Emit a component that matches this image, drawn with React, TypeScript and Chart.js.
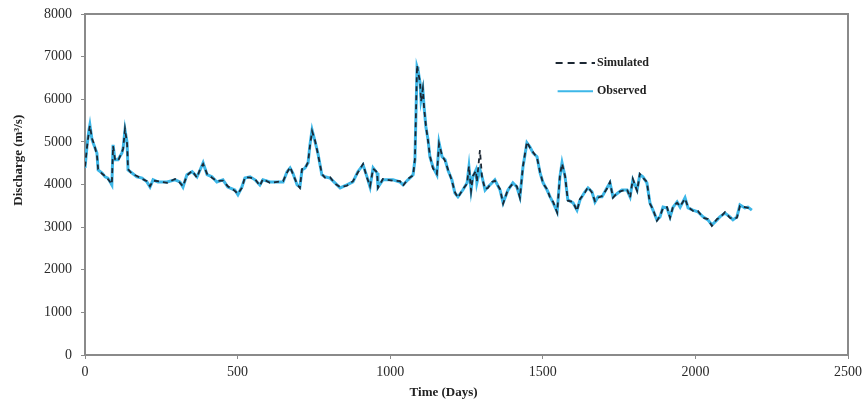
import React, { useEffect, useRef } from "react";
import { Chart, registerables } from "chart.js";

Chart.register(...registerables);

const days = [
  0, 7, 13, 16, 23, 29, 39, 43, 56, 66, 75, 88, 92, 98, 108, 121, 125, 131, 138, 141,
  154, 170, 187, 203, 213, 223, 239, 269, 295, 311, 321, 334, 351, 367, 377, 387, 400, 416, 432, 452,
  468, 491, 501, 514, 524, 541, 557, 573, 583, 606, 649, 662, 672, 681, 695, 704, 711, 721, 731, 737,
  744, 754, 763, 776, 786, 803, 819, 836, 858, 878, 894, 911, 924, 934, 944, 957, 960, 976, 1009, 1032,
  1042, 1058, 1075, 1081, 1088, 1091, 1098, 1101, 1107, 1111, 1117, 1124, 1130, 1140, 1153, 1160, 1170, 1180, 1189, 1202,
  1212, 1222, 1238, 1252, 1258, 1265, 1271, 1281, 1284, 1294, 1301, 1311, 1320, 1334, 1343, 1360, 1370, 1386, 1402, 1415,
  1425, 1435, 1448, 1458, 1468, 1481, 1491, 1501, 1514, 1524, 1534, 1547, 1556, 1563, 1573, 1582, 1599, 1612, 1622, 1638,
  1648, 1661, 1671, 1681, 1694, 1710, 1720, 1730, 1746, 1759, 1776, 1786, 1795, 1809, 1818, 1828, 1841, 1851, 1861, 1874,
  1884, 1894, 1907, 1917, 1927, 1940, 1950, 1966, 1976, 1992, 2008, 2025, 2041, 2054, 2071, 2080, 2097, 2113, 2123, 2136,
  2146, 2162, 2172, 2185,
];

const observed = [
  4390, 4930, 5280, 5400, 5050, 4930, 4740, 4340, 4270, 4180, 4150, 3990, 4930, 4580, 4580, 4740, 4860, 5280, 4980, 4340,
  4270, 4180, 4150, 4060, 3940, 4110, 4060, 4060, 4110, 4060, 3940, 4230, 4300, 4180, 4340, 4510, 4230, 4180, 4060, 4110,
  3940, 3870, 3760, 3940, 4150, 4180, 4110, 3990, 4110, 4060, 4060, 4300, 4390, 4270, 3990, 3940, 4340, 4390, 4510, 4930,
  5280, 5000, 4740, 4230, 4180, 4150, 4040, 3920, 3990, 4060, 4300, 4460, 4180, 3940, 4390, 4270, 3940, 4110, 4110, 4060,
  3990, 4110, 4230, 4580, 6760, 6690, 6380, 5990, 6220, 5820, 5350, 5050, 4650, 4410, 4230, 4980, 4650, 4580, 4340, 4110,
  3800, 3710, 3870, 4040, 4410, 3870, 4180, 4340, 4040, 4350, 4180, 3870, 3940, 4040, 4110, 3870, 3570, 3870, 4040, 3940,
  3710, 4410, 4980, 4880, 4740, 4650, 4270, 4040, 3870, 3710, 3570, 3360, 4180, 4510, 4180, 3640, 3570, 3400, 3640, 3830,
  3920, 3830, 3590, 3710, 3710, 3920, 4040, 3710, 3800, 3870, 3870, 3710, 4110, 3870, 4230, 4180, 4040, 3570, 3400, 3170,
  3240, 3470, 3450, 3240, 3470, 3590, 3470, 3690, 3450, 3400, 3360, 3240, 3170, 3050, 3170, 3240, 3330, 3240, 3170, 3240,
  3520, 3450, 3470, 3400,
];

const simulated = [
  4420, 4900, 5250, 5380, 5080, 4960, 4700, 4360, 4250, 4200, 4130, 4010, 4900, 4600, 4550, 4760, 4840, 5300, 4950, 4360,
  4250, 4200, 4130, 4080, 3960, 4090, 4080, 4040, 4130, 4040, 3960, 4210, 4320, 4160, 4360, 4480, 4250, 4160, 4080, 4090,
  3960, 3850, 3780, 3920, 4170, 4160, 4130, 3970, 4130, 4040, 4080, 4280, 4410, 4250, 4010, 3920, 4360, 4370, 4530, 4900,
  5250, 5020, 4720, 4250, 4160, 4170, 4020, 3940, 3970, 4080, 4280, 4480, 4160, 3960, 4370, 4290, 3920, 4130, 4090, 4080,
  3970, 4130, 4210, 4600, 6800, 6650, 6400, 5950, 6250, 5800, 5380, 5020, 4680, 4380, 4250, 4950, 4680, 4550, 4360, 4090,
  3820, 3690, 3890, 4020, 4430, 3850, 4200, 4320, 4060, 4810, 4160, 3890, 3920, 4060, 4090, 3890, 3550, 3890, 4020, 3960,
  3690, 4430, 5000, 4860, 4760, 4630, 4290, 4020, 3890, 3690, 3590, 3340, 4200, 4490, 4200, 3620, 3590, 3380, 3660, 3810,
  3940, 3810, 3610, 3690, 3730, 3900, 4060, 3690, 3820, 3850, 3890, 3690, 4130, 3850, 4250, 4160, 4060, 3550, 3420, 3150,
  3260, 3450, 3470, 3220, 3490, 3570, 3490, 3670, 3470, 3380, 3380, 3220, 3190, 3030, 3190, 3220, 3350, 3220, 3190, 3220,
  3500, 3470, 3450, 3420,
];

const xTicks = [0, 500, 1000, 1500, 2000, 2500];
const yTicks = [0, 1000, 2000, 3000, 4000, 5000, 6000, 7000, 8000];

const seriesLabels = ["Simulated", "Observed"];
const xTitle = "Time (Days)";
const yTitle = "Discharge (m³/s)";

const AXIS_COLOR = "#8a8a8a";
const OBS_COLOR = "#3db7e8";
const SIM_COLOR = "#1c2733";
const SERIF = "'Liberation Serif', 'DejaVu Serif', serif";

const overlayPlugin = {
  id: "overlayText",
  afterDraw(chart: any) {
    const { ctx } = chart;
    const xs = chart.scales.x;
    const ys = chart.scales.y;
    ctx.save();
    ctx.fillStyle = "#222";
    ctx.font = `bold 13px ${SERIF}`;
    ctx.textAlign = "center";
    ctx.textBaseline = "middle";
    ctx.fillText(xTitle, xs.getPixelForValue(1175), 393);
    ctx.save();
    ctx.translate(19, ys.getPixelForValue(4570));
    ctx.rotate(-Math.PI / 2);
    ctx.fillText(yTitle, 0, 0);
    ctx.restore();

    const lx0 = xs.getPixelForValue(1542);
    const lx1 = xs.getPixelForValue(1671);
    const ly = [ys.getPixelForValue(6850), ys.getPixelForValue(6190)];
    ctx.lineWidth = 2;
    ctx.strokeStyle = SIM_COLOR;
    ctx.setLineDash([7, 5]);
    ctx.beginPath();
    ctx.moveTo(lx0, ly[0]);
    ctx.lineTo(lx1, ly[0]);
    ctx.stroke();
    ctx.setLineDash([]);
    ctx.strokeStyle = OBS_COLOR;
    ctx.beginPath();
    ctx.moveTo(lx0 + 2, ly[1]);
    ctx.lineTo(lx1 - 2, ly[1]);
    ctx.stroke();
    ctx.font = `bold 12px ${SERIF}`;
    ctx.textAlign = "left";
    ctx.fillStyle = "#222";
    ctx.fillText(seriesLabels[0], lx1 + 2, ly[0]);
    ctx.fillText(seriesLabels[1], lx1 + 2, ly[1]);
    ctx.restore();
  },
};

export default function App() {
  const ref = useRef<HTMLCanvasElement | null>(null);
  useEffect(() => {
    document.body.style.margin = "0";
    if (!ref.current) return;
    const obsData = days.map((d, i) => ({ x: d, y: observed[i] }));
    const simData = days.map((d, i) => ({ x: d, y: simulated[i] }));
    const tickFont = { family: SERIF, size: 14 };
    const plain = (v: any) => String(v);
    const chart = new Chart(ref.current, {
      type: "line",
      data: {
        datasets: [
          {
            label: seriesLabels[0],
            data: simData,
            borderColor: SIM_COLOR,
            borderWidth: 1.8,
            borderDash: [5, 4],
            pointRadius: 0,
            tension: 0,
            fill: false,
            order: 0,
          },
          {
            label: seriesLabels[1],
            data: obsData,
            borderColor: OBS_COLOR,
            borderWidth: 3,
            pointRadius: 0,
            tension: 0,
            fill: false,
            order: 1,
          },
        ],
      },
      options: {
        animation: false,
        responsive: false,
        maintainAspectRatio: false,
        layout: { padding: { left: 0, right: 15, top: 14, bottom: 0 } },
        plugins: {
          legend: { display: false },
          tooltip: { enabled: false },
        },
        scales: {
          x: {
            type: "linear",
            position: "bottom",
            min: 0,
            max: 2500,
            afterBuildTicks: (s: any) => {
              s.ticks = xTicks.map((v) => ({ value: v }));
            },
            afterFit: (s: any) => {
              s.height = 47;
              s.paddingLeft = 0;
              s.paddingRight = 0;
            },
            ticks: { font: tickFont, color: "#2a2a2a", padding: 5, maxRotation: 0, callback: plain },
            grid: { display: true, drawOnChartArea: false, drawTicks: true, tickLength: 4, color: AXIS_COLOR, lineWidth: 1 },
            border: { display: true, color: AXIS_COLOR, width: 2 },
          },
          xTop: {
            type: "linear",
            position: "top",
            min: 0,
            max: 2500,
            afterFit: (s: any) => {
              s.height = 0;
              s.paddingLeft = 0;
              s.paddingRight = 0;
            },
            ticks: { display: false },
            grid: { display: false },
            border: { display: true, color: AXIS_COLOR, width: 2 },
          },
          y: {
            type: "linear",
            position: "left",
            min: 0,
            max: 8000,
            afterBuildTicks: (s: any) => {
              s.ticks = yTicks.map((v) => ({ value: v }));
            },
            afterFit: (s: any) => {
              s.width = 85;
              s.paddingTop = 0;
              s.paddingBottom = 0;
            },
            ticks: { font: tickFont, color: "#2a2a2a", padding: 9, callback: plain },
            grid: { display: true, drawOnChartArea: false, drawTicks: true, tickLength: 4, color: AXIS_COLOR, lineWidth: 1 },
            border: { display: true, color: AXIS_COLOR, width: 2 },
          },
          yRight: {
            type: "linear",
            position: "right",
            min: 0,
            max: 8000,
            afterFit: (s: any) => {
              s.width = 0;
              s.paddingTop = 0;
              s.paddingBottom = 0;
            },
            ticks: { display: false },
            grid: { display: false },
            border: { display: true, color: AXIS_COLOR, width: 2 },
          },
        },
      },
      plugins: [overlayPlugin],
    });
    return () => chart.destroy();
  }, []);
  return (
    <div style={{ width: 863, height: 402 }}>
      <canvas ref={ref} width={863} height={402} style={{ display: "block" }} />
    </div>
  );
}
